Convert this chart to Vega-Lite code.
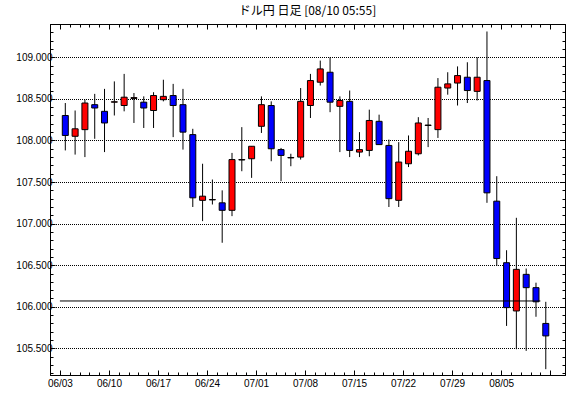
{
  "$schema": "https://vega.github.io/schema/vega-lite/v6.json",
  "width": 515,
  "height": 351,
  "autosize": {"type": "none"},
  "padding": {"left": 50, "top": 24, "right": 5, "bottom": 23},
  "background": "white",
  "title": {
    "text": "ドル円 日足 [08/10 05:55]",
    "font": "Noto Sans CJK JP",
    "fontSize": 12,
    "fontWeight": "normal",
    "color": "black",
    "anchor": "middle",
    "baseline": "bottom",
    "offset": -11
  },
  "config": {
    "view": {"stroke": "black", "strokeWidth": 1},
    "axis": {
      "labelFont": "Liberation Sans",
      "labelFontSize": 10,
      "labelColor": "black",
      "domainColor": "black",
      "tickColor": "black",
      "title": null,
      "labelOverlap": false,
      "labelFlush": false,
      "labelBound": false
    }
  },
  "data": {
    "values": [
      {"i": 0, "date": "06/03", "open": 108.30, "high": 108.45, "low": 107.88, "close": 108.06},
      {"i": 1, "date": "06/04", "open": 108.05, "high": 108.36, "low": 107.83, "close": 108.14},
      {"i": 2, "date": "06/05", "open": 108.13, "high": 108.49, "low": 107.80, "close": 108.45},
      {"i": 3, "date": "06/06", "open": 108.43, "high": 108.56, "low": 108.02, "close": 108.39},
      {"i": 4, "date": "06/07", "open": 108.35, "high": 108.62, "low": 107.86, "close": 108.21},
      {"i": 5, "date": "06/10", "open": 108.46, "high": 108.71, "low": 108.30, "close": 108.465},
      {"i": 6, "date": "06/11", "open": 108.42, "high": 108.80, "low": 108.35, "close": 108.52},
      {"i": 7, "date": "06/12", "open": 108.505, "high": 108.57, "low": 108.21, "close": 108.515},
      {"i": 8, "date": "06/13", "open": 108.46, "high": 108.53, "low": 108.15, "close": 108.39},
      {"i": 9, "date": "06/14", "open": 108.36, "high": 108.58, "low": 108.15, "close": 108.54},
      {"i": 10, "date": "06/17", "open": 108.49, "high": 108.73, "low": 108.47, "close": 108.53},
      {"i": 11, "date": "06/18", "open": 108.54, "high": 108.68, "low": 108.04, "close": 108.42},
      {"i": 12, "date": "06/19", "open": 108.43, "high": 108.62, "low": 107.89, "close": 108.10},
      {"i": 13, "date": "06/20", "open": 108.07, "high": 108.14, "low": 107.20, "close": 107.31},
      {"i": 14, "date": "06/21", "open": 107.28, "high": 107.72, "low": 107.03, "close": 107.33},
      {"i": 15, "date": "06/24", "open": 107.285, "high": 107.53, "low": 107.23, "close": 107.29},
      {"i": 16, "date": "06/25", "open": 107.25, "high": 107.40, "low": 106.77, "close": 107.16},
      {"i": 17, "date": "06/26", "open": 107.16, "high": 107.85, "low": 107.09, "close": 107.77},
      {"i": 18, "date": "06/27", "open": 107.765, "high": 108.16, "low": 107.63, "close": 107.77},
      {"i": 19, "date": "06/28", "open": 107.78, "high": 107.93, "low": 107.55, "close": 107.93},
      {"i": 20, "date": "07/01", "open": 108.17, "high": 108.53, "low": 108.09, "close": 108.43},
      {"i": 21, "date": "07/02", "open": 108.42, "high": 108.47, "low": 107.75, "close": 107.90},
      {"i": 22, "date": "07/03", "open": 107.89, "high": 107.91, "low": 107.51, "close": 107.82},
      {"i": 23, "date": "07/04", "open": 107.79, "high": 107.84, "low": 107.69, "close": 107.795},
      {"i": 24, "date": "07/05", "open": 107.80, "high": 108.63, "low": 107.77, "close": 108.47},
      {"i": 25, "date": "07/08", "open": 108.42, "high": 108.80, "low": 108.27, "close": 108.72},
      {"i": 26, "date": "07/09", "open": 108.70, "high": 108.96, "low": 108.66, "close": 108.86},
      {"i": 27, "date": "07/10", "open": 108.82, "high": 109.00, "low": 108.34, "close": 108.46},
      {"i": 28, "date": "07/11", "open": 108.41, "high": 108.53, "low": 107.86, "close": 108.48},
      {"i": 29, "date": "07/12", "open": 108.47, "high": 108.60, "low": 107.80, "close": 107.88},
      {"i": 30, "date": "07/15", "open": 107.86, "high": 108.10, "low": 107.80, "close": 107.89},
      {"i": 31, "date": "07/16", "open": 107.88, "high": 108.37, "low": 107.81, "close": 108.24},
      {"i": 32, "date": "07/17", "open": 108.23, "high": 108.31, "low": 107.95, "close": 107.95},
      {"i": 33, "date": "07/18", "open": 107.94, "high": 108.01, "low": 107.20, "close": 107.30},
      {"i": 34, "date": "07/19", "open": 107.28, "high": 107.98, "low": 107.20, "close": 107.74},
      {"i": 35, "date": "07/22", "open": 107.72, "high": 108.06, "low": 107.68, "close": 107.87},
      {"i": 36, "date": "07/23", "open": 107.84, "high": 108.28, "low": 107.82, "close": 108.21},
      {"i": 37, "date": "07/24", "open": 108.18, "high": 108.27, "low": 107.92, "close": 108.185},
      {"i": 38, "date": "07/25", "open": 108.13, "high": 108.75, "low": 108.03, "close": 108.64},
      {"i": 39, "date": "07/26", "open": 108.63, "high": 108.82, "low": 108.55, "close": 108.68},
      {"i": 40, "date": "07/29", "open": 108.69, "high": 108.89, "low": 108.42, "close": 108.78},
      {"i": 41, "date": "07/30", "open": 108.76, "high": 108.94, "low": 108.45, "close": 108.60},
      {"i": 42, "date": "07/31", "open": 108.59, "high": 109.00, "low": 108.48, "close": 108.76},
      {"i": 43, "date": "08/01", "open": 108.72, "high": 109.31, "low": 107.25, "close": 107.37},
      {"i": 44, "date": "08/02", "open": 107.27, "high": 107.57, "low": 106.49, "close": 106.58},
      {"i": 45, "date": "08/05", "open": 106.53, "high": 106.68, "low": 105.77, "close": 105.99},
      {"i": 46, "date": "08/06", "open": 105.95, "high": 107.07, "low": 105.49, "close": 106.45},
      {"i": 47, "date": "08/07", "open": 106.39, "high": 106.46, "low": 105.47, "close": 106.23},
      {"i": 48, "date": "08/08", "open": 106.23, "high": 106.29, "low": 105.88, "close": 106.06},
      {"i": 49, "date": "08/09", "open": 105.80, "high": 106.06, "low": 105.25, "close": 105.65}
    ]
  },
  "layer": [
    {
      "mark": {"type": "rule", "color": "black", "strokeWidth": 1, "xOffset": 0.5},
      "encoding": {
        "x": {
          "field": "i",
          "type": "quantitative",
          "scale": {"domain": [-1, 50.5], "nice": false, "zero": false},
          "axis": {
            "orient": "bottom",
            "grid": false,
            "values": [-0.5, 0.5, 1.5, 2.5, 3.5, 4.5, 5.5, 6.5, 7.5, 8.5, 9.5, 10.5, 11.5, 12.5, 13.5, 14.5, 15.5, 16.5, 17.5, 18.5, 19.5, 20.5, 21.5, 22.5, 23.5, 24.5, 25.5, 26.5, 27.5, 28.5, 29.5, 30.5, 31.5, 32.5, 33.5, 34.5, 35.5, 36.5, 37.5, 38.5, 39.5, 40.5, 41.5, 42.5, 43.5, 44.5, 45.5, 46.5, 47.5, 48.5, 49.5],
            "labelExpr": "(datum.value + 0.5) % 5 == 0 ? ['06/03','06/10','06/17','06/24','07/01','07/08','07/15','07/22','07/29','08/05'][(datum.value + 0.5) / 5] : ''",
            "tickSize": {"condition": {"test": "(datum.value + 0.5) % 5 == 0", "value": -5}, "value": -3},
            "labelPadding": 8
          }
        },
        "y": {
          "field": "low",
          "type": "quantitative",
          "scale": {"domain": [105.18, 109.4], "nice": false, "zero": false},
          "axis": {
            "orient": "left",
            "values": [105.2, 105.3, 105.4, 105.5, 105.6, 105.7, 105.8, 105.9, 106.0, 106.1, 106.2, 106.3, 106.4, 106.5, 106.6, 106.7, 106.8, 106.9, 107.0, 107.1, 107.2, 107.3, 107.4, 107.5, 107.6, 107.7, 107.8, 107.9, 108.0, 108.1, 108.2, 108.3, 108.4, 108.5, 108.6, 108.7, 108.8, 108.9, 109.0, 109.1, 109.2, 109.3, 109.4],
            "labelExpr": "abs(datum.value * 2 - round(datum.value * 2)) < 0.001 ? format(datum.value, '.3f') : ''",
            "tickSize": {"condition": {"test": "abs(datum.value * 2 - round(datum.value * 2)) < 0.001", "value": -5}, "value": -3},
            "labelPadding": 3,
            "grid": true,
            "gridColor": "black",
            "gridDash": [1, 1],
            "gridDashOffset": 0.5,
            "gridWidth": 1,
            "gridOpacity": {"condition": {"test": "abs(datum.value * 2 - round(datum.value * 2)) < 0.001", "value": 1}, "value": 0}
          }
        },
        "y2": {"field": "high"}
      }
    },
    {
      "mark": {"type": "bar", "size": 6, "stroke": "black", "strokeWidth": 1, "xOffset": 0.5},
      "encoding": {
        "x": {
          "field": "i",
          "type": "quantitative",
          "axis": {
            "orient": "top",
            "grid": false,
            "labels": false,
            "values": [-0.5, 0.5, 1.5, 2.5, 3.5, 4.5, 5.5, 6.5, 7.5, 8.5, 9.5, 10.5, 11.5, 12.5, 13.5, 14.5, 15.5, 16.5, 17.5, 18.5, 19.5, 20.5, 21.5, 22.5, 23.5, 24.5, 25.5, 26.5, 27.5, 28.5, 29.5, 30.5, 31.5, 32.5, 33.5, 34.5, 35.5, 36.5, 37.5, 38.5, 39.5, 40.5, 41.5, 42.5, 43.5, 44.5, 45.5, 46.5, 47.5, 48.5, 49.5],
            "tickSize": {"condition": {"test": "(datum.value + 0.5) % 5 == 0", "value": -5}, "value": -3}
          }
        },
        "y": {
          "field": "open",
          "type": "quantitative",
          "axis": {
            "orient": "right",
            "grid": false,
            "labels": false,
            "values": [105.2, 105.3, 105.4, 105.5, 105.6, 105.7, 105.8, 105.9, 106.0, 106.1, 106.2, 106.3, 106.4, 106.5, 106.6, 106.7, 106.8, 106.9, 107.0, 107.1, 107.2, 107.3, 107.4, 107.5, 107.6, 107.7, 107.8, 107.9, 108.0, 108.1, 108.2, 108.3, 108.4, 108.5, 108.6, 108.7, 108.8, 108.9, 109.0, 109.1, 109.2, 109.3, 109.4],
            "tickSize": {"condition": {"test": "abs(datum.value * 2 - round(datum.value * 2)) < 0.001", "value": -5}, "value": -3}
          }
        },
        "y2": {"field": "close"},
        "fill": {"condition": {"test": "datum.close >= datum.open", "value": "#ff0000"}, "value": "#0000ff"}
      }
    },
    {
      "data": {"values": [{"x1": -0.5, "x2": 48.5, "level": 106.07}]},
      "mark": {"type": "rule", "color": "black", "strokeWidth": 1},
      "encoding": {
        "x": {"field": "x1", "type": "quantitative", "axis": null},
        "x2": {"field": "x2"},
        "y": {"field": "level", "type": "quantitative", "axis": null}
      }
    }
  ],
  "resolve": {"axis": {"x": "independent", "y": "independent"}}
}
